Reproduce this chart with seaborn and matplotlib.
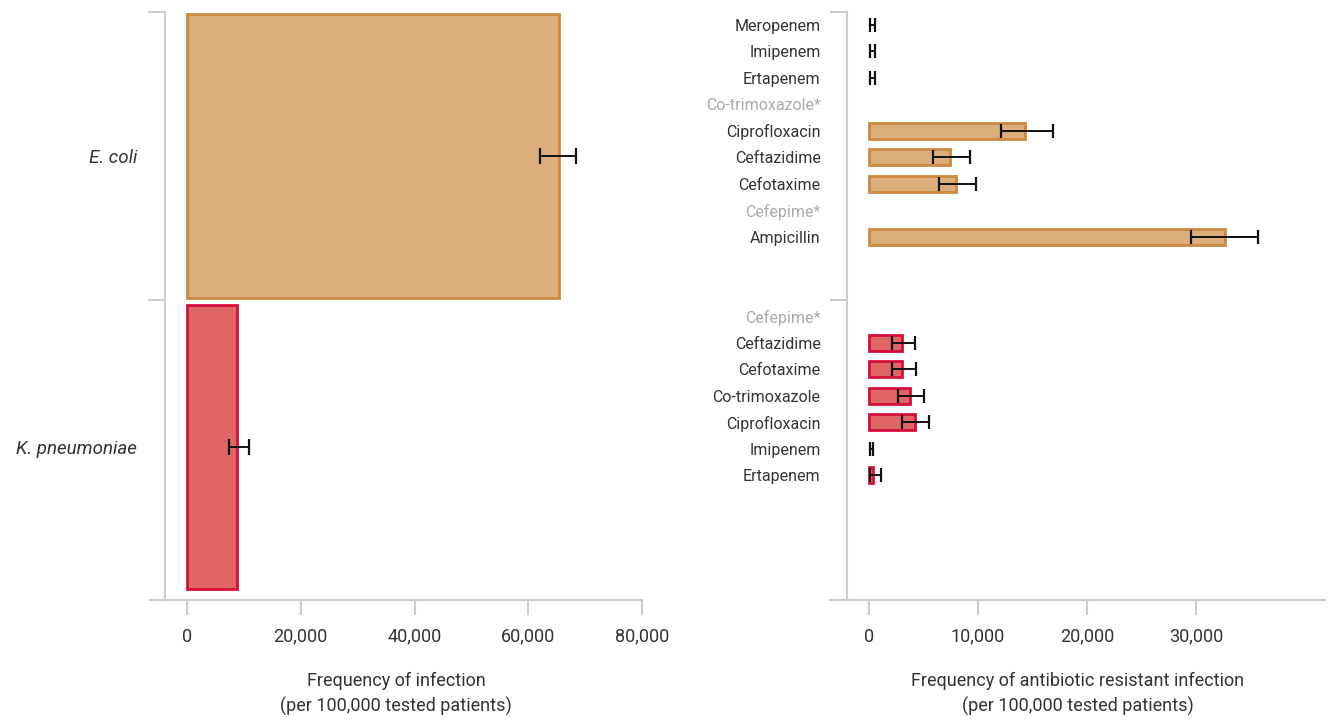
import numpy as np
import pandas as pd
import seaborn as sns
import matplotlib.pyplot as plt
from matplotlib.ticker import FuncFormatter

# --- dati ---
organisms = ['E. coli', 'K. pneumoniae']
infection_freq = [65400, 8750]
infection_lo = [62100, 7350]
infection_hi = [68400, 10850]

ecoli_drugs = ['Meropenem', 'Imipenem', 'Ertapenem', 'Co-trimoxazole*', 'Ciprofloxacin',
               'Ceftazidime', 'Cefotaxime', 'Cefepime*', 'Ampicillin']
ecoli_res = [0, 0, 0, np.nan, 14300, 7450, 8000, np.nan, 32650]
ecoli_lo = [100, 100, 100, np.nan, 12100, 5900, 6400, np.nan, 29550]
ecoli_hi = [550, 550, 550, np.nan, 16900, 9300, 9800, np.nan, 35700]

kpn_drugs = ['Cefepime*', 'Ceftazidime', 'Cefotaxime', 'Co-trimoxazole', 'Ciprofloxacin',
             'Imipenem', 'Ertapenem']
kpn_res = [np.nan, 3050, 3050, 3750, 4250, 0, 340]
kpn_lo = [np.nan, 2100, 2100, 2650, 3050, 50, 60]
kpn_hi = [np.nan, 4200, 4350, 5050, 5550, 330, 1130]

fills = {'E. coli': '#dcae7c', 'K. pneumoniae': '#e06666'}
edges = {'E. coli': '#cd8a40', 'K. pneumoniae': '#d60f3a'}

TXT = '#333333'
GRID = '#cccccc'

sns.set_style('white')
plt.rcParams['font.family'] = ['Roboto', 'DejaVu Sans']
plt.rcParams['text.color'] = TXT
plt.rcParams['axes.labelcolor'] = TXT

fig = plt.figure(figsize=(13.29, 7.2), dpi=100)
ax1 = fig.add_axes([0.1129, 0.1667, 0.3702, 0.8167])
ax2 = fig.add_axes([0.6245, 0.1667, 0.3725, 0.8167])


def thousands(x, pos):
    return f'{x:,.0f}'


def style_axis(ax, spine_x, ypad):
    for s in ['top', 'right']:
        ax.spines[s].set_visible(False)
    for s in ['left', 'bottom']:
        ax.spines[s].set_color(GRID)
        ax.spines[s].set_linewidth(1.5)
    ax.spines['left'].set_position(('data', spine_x))
    ax.xaxis.set_major_formatter(FuncFormatter(thousands))
    ax.tick_params(axis='x', which='major', direction='out', length=11, width=1.5,
                   pad=9, labelsize=13, color=GRID, labelcolor=TXT, bottom=True)
    ax.tick_params(axis='y', which='major', direction='out', length=12, width=1.5,
                   color=GRID, labelleft=False, left=True)
    ax.tick_params(axis='y', which='minor', length=0, labelleft=True,
                   labelcolor=TXT, pad=ypad)


def draw_errors(ax, pos, lo, hi, cap):
    # errorbar centrati sull'intervallo (alcuni valori sono 0 con CI > 0)
    lo = np.asarray(lo, float)
    hi = np.asarray(hi, float)
    mid = (lo + hi) / 2
    ax.errorbar(mid, pos, xerr=(hi - lo) / 2, fmt='none', ecolor='#111111',
                elinewidth=1.4, capsize=cap, capthick=1.6, zorder=5)


# --- pannello sinistro: frequenza infezione ---
df_inf = pd.DataFrame({'organism': organisms, 'freq': infection_freq})
sns.barplot(data=df_inf, x='freq', y='organism', hue='organism', palette=fills,
            width=0.976, linewidth=2, saturation=1, errorbar=None, legend=False, ax=ax1)
for patch, org in zip(ax1.patches, organisms):
    patch.set_edgecolor(edges[org])

draw_errors(ax1, np.arange(len(organisms)), infection_lo, infection_hi, 5.5)

ax1.set_xlim(-6490, 80000)
ax1.set_ylim(1.526, -0.495)
ax1.set_xticks([0, 20000, 40000, 60000, 80000])
ax1.set_yticks([-0.495, 0.495])
ax1.set_yticks(np.arange(len(organisms)), minor=True)
style_axis(ax1, -3860, 20)
ax1.set_yticklabels(organisms, minor=True, fontsize=13.5, style='italic', color=TXT)
ax1.set_ylabel('')
ax1.set_xlabel('Frequency of infection\n(per 100,000 tested patients)', fontsize=13,
               labelpad=19, linespacing=1.45)

# --- pannello destro: resistenza ---
pos_e = np.arange(len(ecoli_drugs))
pos_k = np.arange(len(kpn_drugs)) + len(ecoli_drugs) + 2

df_res = pd.concat([
    pd.DataFrame({'organism': 'E. coli', 'drug': ecoli_drugs, 'pos': pos_e,
                  'res': ecoli_res, 'lo': ecoli_lo, 'hi': ecoli_hi}),
    pd.DataFrame({'organism': 'K. pneumoniae', 'drug': kpn_drugs, 'pos': pos_k,
                  'res': kpn_res, 'lo': kpn_lo, 'hi': kpn_hi}),
], ignore_index=True)

for org in organisms:
    sub = df_res[(df_res['organism'] == org) & (df_res['res'] > 0)]
    sns.barplot(data=sub, x='res', y='pos', orient='h', native_scale=True,
                color=fills[org], edgecolor=edges[org], linewidth=2, saturation=1,
                width=0.6, errorbar=None, ax=ax2)

err = df_res.dropna(subset=['lo'])
draw_errors(ax2, err['pos'], err['lo'], err['hi'], 5)

all_pos = np.concatenate([pos_e, pos_k])
all_drugs = ecoli_drugs + kpn_drugs
ax2.set_xlim(-3580, 41830)
ax2.set_ylim(21.7, -0.49)
ax2.set_xticks([0, 10000, 20000, 30000])
ax2.set_yticks([-0.49, 10.38])
ax2.set_yticks(all_pos, minor=True)
style_axis(ax2, -2020, 19)
ax2.set_yticklabels(all_drugs, minor=True, fontsize=11.5, color=TXT)
for lab in ax2.get_yticklabels(minor=True):
    if lab.get_text().endswith('*'):
        lab.set_color('#aaaaaa')
ax2.set_ylabel('')
ax2.set_xlabel('Frequency of antibiotic resistant infection\n(per 100,000 tested patients)',
               fontsize=13, labelpad=19, linespacing=1.45)

plt.savefig('out.png', dpi=100)
